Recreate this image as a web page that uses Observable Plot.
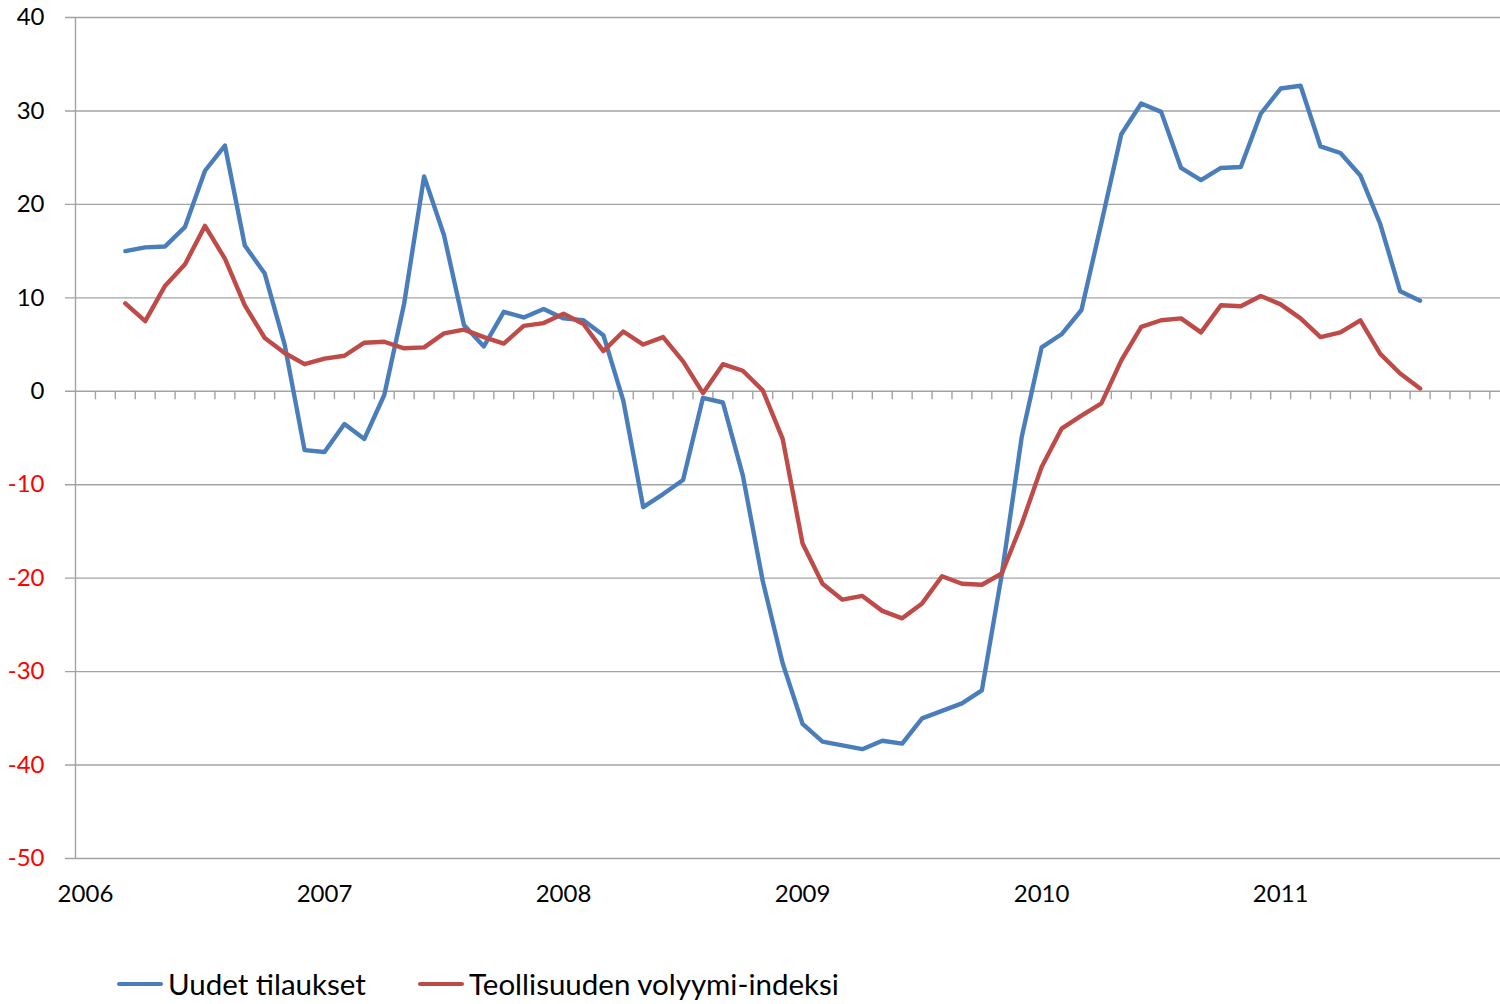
<!DOCTYPE html>
<html>
<head>
<meta charset="utf-8">
<script src="https://cdn.jsdelivr.net/npm/d3@7"></script>
<script src="https://cdn.jsdelivr.net/npm/@observablehq/plot@0.6"></script>
<style>
  html, body { margin: 0; padding: 0; background: #fff; }
  body { width: 1500px; height: 1004px; overflow: hidden; font-family: Lato, "Open Sans", sans-serif; }
  #chart svg { display: block; }
  #legend { position: relative; height: 74px; }
  .item { position: absolute; top: 38px; display: flex; align-items: center; font-size: 29.5px; color: #000; line-height: 32px; }
  .swatch { width: 46px; height: 4.5px; border-radius: 3px; margin-right: 5px; }
</style>
</head>
<body>
<div id="chart"></div>
<div id="legend"></div>
<script>
(function () {
// ---- data ----
const years = ["2006", "2007", "2008", "2009", "2010", "2011"];
const startMonth = 2; // first observation: March 2006 (month index from Jan 2006)
const seriesNames = ["Uudet tilaukset", "Teollisuuden volyymi-indeksi"];
const seriesColors = ["#4a7ebb", "#be4b48"];
const uudetTilaukset = [
  15.0, 15.4, 15.5, 17.6, 23.6, 26.3, 15.6, 12.6, 5.0, -6.3,
  -6.5, -3.5, -5.1, -0.4, 9.4, 23.0, 16.7, 7.1, 4.8, 8.5,
  7.9, 8.8, 7.8, 7.6, 6.0, -1.0, -12.4, -11.0, -9.5, -0.7,
  -1.2, -9.0, -20.3, -29.1, -35.6, -37.5, -37.9, -38.3, -37.4, -37.7,
  -35.0, -34.2, -33.4, -32.0, -19.6, -4.9, 4.7, 6.1, 8.7, 18.0,
  27.5, 30.8, 29.9, 23.9, 22.6, 23.9, 24.0, 29.7, 32.4, 32.7,
  26.2, 25.5, 23.1, 17.9, 10.7, 9.7
];
const volyymiIndeksi = [
  9.4, 7.5, 11.3, 13.6, 17.7, 14.2, 9.2, 5.7, 4.1, 2.9,
  3.5, 3.8, 5.2, 5.3, 4.6, 4.7, 6.2, 6.6, 5.8, 5.1,
  7.0, 7.3, 8.3, 7.2, 4.3, 6.4, 5.0, 5.8, 3.2, -0.2,
  2.9, 2.2, 0.1, -5.1, -16.3, -20.6, -22.3, -21.9, -23.5, -24.3,
  -22.7, -19.8, -20.6, -20.7, -19.5, -14.2, -8.1, -4.0, -2.6, -1.3,
  3.3, 6.9, 7.6, 7.8, 6.3, 9.2, 9.1, 10.2, 9.3, 7.8,
  5.8, 6.3, 7.6, 4.0, 1.9, 0.3
];
const yTicks = [40, 30, 20, 10, 0, -10, -20, -30, -40, -50];
const totalMonths = years.length * 12;

// ---- build tables ----
const rows = [];
uudetTilaukset.forEach((v, i) => rows.push({m: startMonth + i + 0.5, v, s: seriesNames[0]}));
volyymiIndeksi.forEach((v, i) => rows.push({m: startMonth + i + 0.5, v, s: seriesNames[1]}));
const monthTicks = d3.range(1, totalMonths);

const W = 1500, H = 930;
const mLeft = 75, mTop = 17, mBottom = 858;
const pxPerMonth = 19.92;
const xMax = (W - mLeft) / pxPerMonth;
const pxPerUnit = (mBottom - mTop) / 90;
const gridColor = "#a3a3a3";

const chart = Plot.plot({
  width: W,
  height: H,
  marginLeft: mLeft,
  marginRight: 0,
  marginTop: mTop,
  marginBottom: H - mBottom,
  style: {fontFamily: "Lato, 'Open Sans', sans-serif", background: "#fff"},
  x: {domain: [0, xMax], axis: null},
  y: {domain: [-50, 40], axis: null},
  color: {domain: seriesNames, range: seriesColors},
  marks: [
    // horizontal gridlines with left tick stubs
    Plot.ruleY(yTicks, {y: d => d, x1: -10 / pxPerMonth, x2: xMax, stroke: gridColor, strokeWidth: 1.4}),
    // vertical axis line
    Plot.ruleX([0], {y1: -50, y2: 40, stroke: gridColor, strokeWidth: 1.4}),
    // month ticks on the zero line
    Plot.ruleX(monthTicks, {x: d => d, y1: 0, y2: -8.5 / pxPerUnit, stroke: gridColor, strokeWidth: 1.4}),
    // y tick labels
    Plot.text(yTicks, {
      y: d => d, frameAnchor: "left", textAnchor: "end", dx: -31,
      text: d => String(d), fill: d => d < 0 ? "#ff0000" : "#000",
      fontSize: 24
    }),
    // x year labels
    Plot.text(years, {
      x: (d, i) => i * 12 + 0.5, y: -50, dy: 36, text: d => d,
      fill: "#000", fontSize: 24
    }),
    // series lines
    Plot.line(rows, {
      x: "m", y: "v", z: "s", stroke: "s",
      strokeWidth: 4.4, strokeLinejoin: "round", strokeLinecap: "round"
    })
  ]
});
document.getElementById("chart").appendChild(chart);

// ---- legend ----
const legend = document.getElementById("legend");
const legendX = [117, 418];
seriesNames.forEach((name, i) => {
  const item = document.createElement("div");
  item.className = "item";
  item.style.left = legendX[i] + "px";
  const sw = document.createElement("span");
  sw.className = "swatch";
  sw.style.background = seriesColors[i];
  const label = document.createElement("span");
  label.textContent = name;
  item.appendChild(sw);
  item.appendChild(label);
  legend.appendChild(item);
});
})();
</script>
</body>
</html>
